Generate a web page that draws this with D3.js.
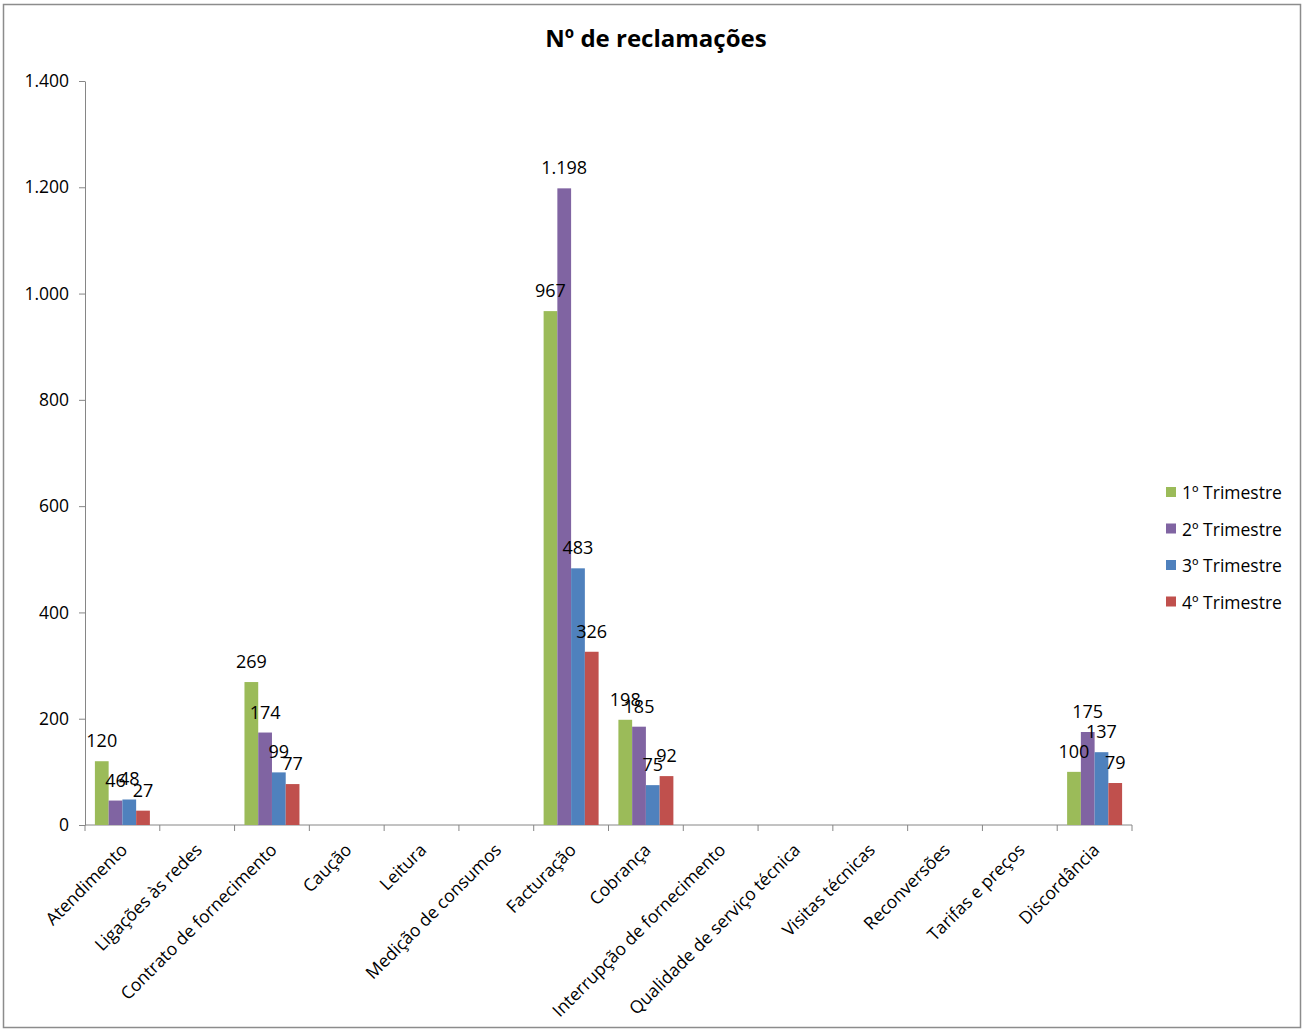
<!DOCTYPE html>
<meta charset="utf-8">
<style>
  body { margin: 0; background: #fff; }
  text { font-family: "Open Sans", "Noto Sans", sans-serif; fill: #000; }
</style>
<svg width="1305" height="1031"></svg>
<script src="https://d3js.org/d3.v7.min.js"></script>
<script>

var categories = ["Atendimento", "Ligações às redes", "Contrato de fornecimento", "Caução", "Leitura",
  "Medição de consumos", "Facturação", "Cobrança", "Interrupção de fornecimento",
  "Qualidade de serviço técnica", "Visitas técnicas", "Reconversões", "Tarifas e preços", "Discordância"];

var series = ["1º Trimestre", "2º Trimestre", "3º Trimestre", "4º Trimestre"];

var t1 = [120, null, 269, null, null, null, 967, 198, null, null, null, null, null, 100];
var t2 = [46, null, 174, null, null, null, 1198, 185, null, null, null, null, null, 175];
var t3 = [48, null, 99, null, null, null, 483, 75, null, null, null, null, null, 137];
var t4 = [27, null, 77, null, null, null, 326, 92, null, null, null, null, null, 79];

var yTicks = [0, 200, 400, 600, 800, 1000, 1200, 1400];

var colors = ["#9bbb59", "#8064a2", "#4f81bd", "#c0504d"];

var svg = d3.select("svg"),
    margin = {top: 81, right: 173, bottom: 206, left: 85},
    width = 1305 - margin.left - margin.right,
    height = 1031 - margin.top - margin.bottom;

var pt = d3.formatLocale({decimal: ",", thousands: ".", grouping: [3], currency: ["", "€"]}).format(",d");

// outer frame
svg.append("rect")
    .attr("x", 3.5).attr("y", 4.5)
    .attr("width", 1297).attr("height", 1023)
    .attr("fill", "none")
    .attr("stroke", "#8c8c8c")
    .attr("stroke-width", 1.5);

svg.append("text")
    .attr("x", 656).attr("y", 47)
    .attr("text-anchor", "middle")
    .attr("font-size", 24)
    .attr("font-weight", "bold")
    .text("Nº de reclamações");

var g = svg.append("g").attr("transform", "translate(" + margin.left + "," + margin.top + ")");

var x0 = d3.scaleBand().domain(categories).range([0, width]).paddingInner(0).paddingOuter(0);
var x1 = d3.scaleBand().domain(series).range([0, x0.bandwidth()]).paddingInner(0).paddingOuter(0.72);
var y = d3.scaleLinear().domain([0, 1400]).range([height, 0]);

var rows = [t1, t2, t3, t4];
var data = [];
categories.forEach(function(c, i) {
  series.forEach(function(s, j) {
    if (rows[j][i] != null) data.push({cat: c, s: s, v: rows[j][i], k: j});
  });
});

// y axis
var yAxis = g.append("g")
    .call(d3.axisLeft(y).tickValues(yTicks).tickSize(6).tickSizeOuter(0).tickFormat(pt).tickPadding(10));
yAxis.select(".domain").attr("stroke", "#868686");
yAxis.selectAll(".tick line").attr("stroke", "#868686");
yAxis.selectAll("text").attr("font-size", 17.5).style("font-family", "'Open Sans', sans-serif");

// x axis: ticks at band boundaries
var xg = g.append("g").attr("transform", "translate(0," + height + ")");
xg.append("line").attr("x1", 0).attr("x2", width).attr("stroke", "#868686");
xg.selectAll(".bt")
    .data(d3.range(categories.length + 1))
  .enter().append("line")
    .attr("x1", function(i) { return i * x0.step(); })
    .attr("x2", function(i) { return i * x0.step(); })
    .attr("y1", 0).attr("y2", 6)
    .attr("stroke", "#868686");
xg.selectAll(".lbl")
    .data(categories)
  .enter().append("text")
    .attr("text-anchor", "end")
    .attr("font-size", 17.5)
    .attr("transform", function(d) {
      return "translate(" + (x0(d) + x0.bandwidth() / 2 + 6) + ",26) rotate(-45)";
    })
    .text(function(d) { return d; });

// bars
g.selectAll(".bar")
    .data(data)
  .enter().append("rect")
    .attr("x", function(d) { return x0(d.cat) + x1(d.s); })
    .attr("y", function(d) { return y(d.v); })
    .attr("width", x1.bandwidth())
    .attr("height", function(d) { return height - y(d.v); })
    .attr("fill", function(d) { return colors[d.k]; });

g.selectAll(".val")
    .data(data)
  .enter().append("text")
    .attr("x", function(d) { return x0(d.cat) + x1(d.s) + x1.bandwidth() / 2; })
    .attr("y", function(d) { return y(d.v) - 14; })
    .attr("text-anchor", "middle")
    .attr("font-size", 18)
    .text(function(d) { return pt(d.v); });

// legend
var lg = svg.append("g").attr("transform", "translate(1166,493)");
var li = lg.selectAll("g")
    .data(series)
  .enter().append("g")
    .attr("transform", function(d, i) { return "translate(0," + (i * 36.5) + ")"; });
li.append("rect")
    .attr("x", 0).attr("y", -6)
    .attr("width", 10).attr("height", 10)
    .attr("fill", function(d, i) { return colors[i]; });
li.append("text")
    .attr("x", 16).attr("y", 6)
    .attr("font-size", 17.5)
    .text(function(d) { return d; });

</script>
